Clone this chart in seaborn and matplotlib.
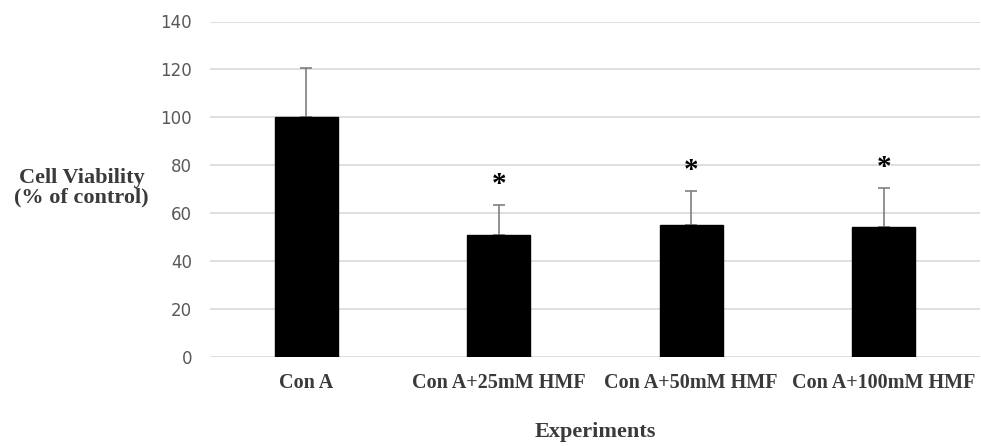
import matplotlib
matplotlib.use("Agg")
import matplotlib.pyplot as plt
import seaborn as sns
import pandas as pd

categories = ["Con A", "Con A+25mM HMF", "Con A+50mM HMF", "Con A+100mM HMF"]
viability = [100.0, 51.0, 55.1, 54.4]
errors = [20.5, 12.7, 14.3, 16.3]
significant = [False, True, True, True]
y_ticks = [0, 20, 40, 60, 80, 100, 120, 140]

df = pd.DataFrame({"Experiment": categories, "Viability": viability})

sns.set_style("white")
fig = plt.figure(figsize=(9.81, 4.46), dpi=100)
ax = fig.add_axes([210 / 981, 1 - 357.3 / 446, 770 / 981, (357.3 - 21.5) / 446])

sns.barplot(data=df, x="Experiment", y="Viability", color="black", width=0.327,
            errorbar=None, ax=ax, saturation=1, zorder=3)
for p in ax.patches:
    p.set_edgecolor("black")

xs = list(range(len(categories)))
ax.errorbar(xs, viability, yerr=[[0] * len(errors), errors], fmt="none",
            ecolor="#7f7f7f", elinewidth=1.2, capsize=4.5, capthick=1.2, zorder=2)

for x, v, e, s in zip(xs, viability, errors, significant):
    if s:
        ax.annotate("*", xy=(x, v + e), xytext=(0, 5), textcoords="offset points",
                    ha="center", va="bottom", fontsize=21, fontweight="bold",
                    family="Liberation Serif", color="black")

ax.set_ylim(0, 140)
ax.set_xlim(-0.5, 3.5)
ax.set_yticks(y_ticks)
ax.yaxis.grid(True, color="#d9d9d9", linewidth=1.2, zorder=0)
ax.set_axisbelow(True)
for sp in ax.spines.values():
    sp.set_visible(False)

ax.tick_params(axis="y", length=0, pad=13, labelsize=12, labelcolor="#595959")
ax.tick_params(axis="x", length=0, pad=11)
for lbl in ax.get_xticklabels():
    lbl.set_fontfamily("Liberation Serif")
    lbl.set_fontweight("bold")
    lbl.set_fontsize(14.5)
    lbl.set_color("#3a3a3a")
for lbl in ax.get_yticklabels():
    lbl.set_fontfamily("DejaVu Sans")

ax.set_xlabel("Experiments", family="Liberation Serif", fontweight="bold",
              fontsize=16, color="#3a3a3a")
ax.xaxis.set_label_coords(0.5, -0.222)
ax.xaxis.label.set_va("center")
ax.set_ylabel("Cell Viability\n(% of control)", family="Liberation Serif",
              fontweight="bold", fontsize=16, color="#3a3a3a", rotation=0,
              ha="center", va="center", linespacing=1.0)
ax.yaxis.set_label_coords(-0.167, 0.505)

fig.savefig("out.png", dpi=100)
